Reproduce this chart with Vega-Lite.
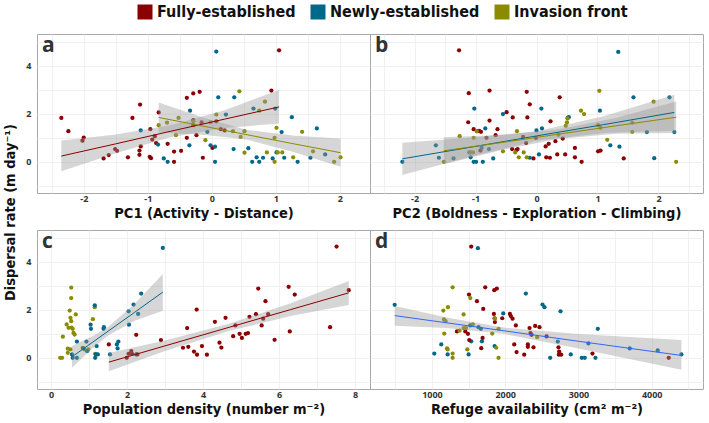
{
"$schema": "https://vega.github.io/schema/vega-lite/v6.json",
"padding": {"left": 2, "top": 4, "right": 6, "bottom": 2},
"background": "white",
"config": {
  "view": {"stroke": "#a8a8a8", "strokeWidth": 1},
  "axis": {"domain": false, "ticks": false, "tickCount": 30, "gridColor": "#ececec", "gridWidth": 0.8, "labelFont": "Open Sans", "labelFontWeight": "bold", "labelFontSize": 9, "labelColor": "#333333", "labelPadding": 1, "titleFont": "DejaVu Sans Condensed, Liberation Sans, sans-serif", "titleFontSize": 14.5, "titleFontWeight": "bold", "titleColor": "#111111", "titlePadding": 3},
  "legend": {"orient": "none", "legendX": 100, "legendY": -30, "direction": "horizontal", "symbolType": "square", "symbolSize": 225, "symbolStrokeWidth": 0, "labelFont": "DejaVu Sans Condensed, Liberation Sans, sans-serif", "labelFontSize": 16, "labelFontWeight": "bold", "labelColor": "#111111", "columnPadding": 14, "labelOffset": 4},
  "title": {"anchor": "start", "offset": -22, "dx": 5, "fontSize": 21, "font": "Open Sans", "fontWeight": "bold", "color": "#333333", "frame": "group"}
},
"datasets": {
"pa": [
{"group":"Fully-established","x":-2.35,"y":1.83},{"group":"Fully-established","x":-2.24,"y":1.28},{"group":"Fully-established","x":-2.02,"y":0.88},{"group":"Fully-established","x":-2.0,"y":1.01},{"group":"Fully-established","x":-1.69,"y":0.14},{"group":"Fully-established","x":-1.61,"y":0.28},{"group":"Fully-established","x":-1.51,"y":0.53},{"group":"Fully-established","x":-1.48,"y":0.46},{"group":"Fully-established","x":-1.31,"y":0.19},{"group":"Fully-established","x":-1.24,"y":1.83},{"group":"Fully-established","x":-1.12,"y":2.39},{"group":"Fully-established","x":-1.11,"y":0.64},{"group":"Fully-established","x":-1.13,"y":0.47},{"group":"Fully-established","x":-1.13,"y":0.29},{"group":"Fully-established","x":-0.96,"y":1.36},{"group":"Fully-established","x":-0.97,"y":0.21},{"group":"Fully-established","x":-0.95,"y":0.15},{"group":"Fully-established","x":-0.93,"y":0.93},{"group":"Fully-established","x":-0.89,"y":1.07},{"group":"Fully-established","x":-0.87,"y":0.78},{"group":"Fully-established","x":-0.83,"y":2.06},{"group":"Fully-established","x":-0.69,"y":0.75},{"group":"Fully-established","x":-0.59,"y":0.43},{"group":"Fully-established","x":-0.59,"y":0.0},{"group":"Fully-established","x":-0.48,"y":0.46},{"group":"Fully-established","x":-0.39,"y":2.67},{"group":"Fully-established","x":-0.39,"y":1.0},{"group":"Fully-established","x":-0.29,"y":2.85},{"group":"Fully-established","x":-0.29,"y":1.74},{"group":"Fully-established","x":-0.29,"y":1.53},{"group":"Fully-established","x":-0.24,"y":1.11},{"group":"Fully-established","x":-0.19,"y":2.92},{"group":"Fully-established","x":-0.16,"y":1.64},{"group":"Fully-established","x":-0.14,"y":0.17},{"group":"Fully-established","x":0.01,"y":0.58},{"group":"Fully-established","x":0.07,"y":1.69},{"group":"Fully-established","x":0.14,"y":1.36},{"group":"Fully-established","x":0.2,"y":1.31},{"group":"Fully-established","x":0.93,"y":2.97},{"group":"Fully-established","x":1.05,"y":4.65},
{"group":"Newly-established","x":0.07,"y":4.6},{"group":"Newly-established","x":0.1,"y":2.69},{"group":"Newly-established","x":0.35,"y":2.69},{"group":"Newly-established","x":0.22,"y":1.97},{"group":"Newly-established","x":-0.34,"y":2.13},{"group":"Newly-established","x":-0.35,"y":0.69},{"group":"Newly-established","x":-1.11,"y":1.31},{"group":"Newly-established","x":-0.84,"y":0.72},{"group":"Newly-established","x":-0.75,"y":0.14},{"group":"Newly-established","x":-0.69,"y":0.0},{"group":"Newly-established","x":-0.07,"y":1.25},{"group":"Newly-established","x":-0.02,"y":0.69},{"group":"Newly-established","x":0.05,"y":0.63},{"group":"Newly-established","x":0.05,"y":0.0},{"group":"Newly-established","x":0.34,"y":0.53},{"group":"Newly-established","x":0.57,"y":0.57},{"group":"Newly-established","x":0.65,"y":2.22},{"group":"Newly-established","x":0.63,"y":0.0},{"group":"Newly-established","x":0.7,"y":0.19},{"group":"Newly-established","x":0.74,"y":0.0},{"group":"Newly-established","x":0.8,"y":0.17},{"group":"Newly-established","x":0.95,"y":0.14},{"group":"Newly-established","x":0.99,"y":2.22},{"group":"Newly-established","x":1.01,"y":0.39},{"group":"Newly-established","x":1.09,"y":1.24},{"group":"Newly-established","x":1.13,"y":0.17},{"group":"Newly-established","x":1.25,"y":1.86},{"group":"Newly-established","x":1.34,"y":0.0},{"group":"Newly-established","x":1.54,"y":0.17},{"group":"Newly-established","x":1.64,"y":1.39},{"group":"Newly-established","x":1.77,"y":0.31},
{"group":"Invasion front","x":0.43,"y":2.94},{"group":"Invasion front","x":0.83,"y":2.51},{"group":"Invasion front","x":0.74,"y":2.13},{"group":"Invasion front","x":0.07,"y":1.97},{"group":"Invasion front","x":-0.52,"y":1.83},{"group":"Invasion front","x":-0.7,"y":1.63},{"group":"Invasion front","x":-0.83,"y":1.53},{"group":"Invasion front","x":-0.29,"y":1.69},{"group":"Invasion front","x":-0.02,"y":1.65},{"group":"Invasion front","x":-0.56,"y":1.11},{"group":"Invasion front","x":-0.1,"y":0.9},{"group":"Invasion front","x":0.33,"y":1.28},{"group":"Invasion front","x":0.51,"y":1.28},{"group":"Invasion front","x":0.45,"y":1.04},{"group":"Invasion front","x":0.51,"y":0.38},{"group":"Invasion front","x":0.86,"y":0.39},{"group":"Invasion front","x":0.98,"y":1.0},{"group":"Invasion front","x":1.01,"y":1.42},{"group":"Invasion front","x":1.03,"y":0.39},{"group":"Invasion front","x":1.1,"y":0.39},{"group":"Invasion front","x":0.98,"y":0.0},{"group":"Invasion front","x":1.27,"y":0.19},{"group":"Invasion front","x":1.41,"y":1.25},{"group":"Invasion front","x":1.58,"y":0.44},{"group":"Invasion front","x":1.91,"y":0.0},{"group":"Invasion front","x":2.01,"y":0.19}
],
"pb": [
{"group":"Fully-established","x":-1.27,"y":4.65},{"group":"Fully-established","x":-1.11,"y":2.86},{"group":"Fully-established","x":-0.77,"y":2.97},{"group":"Fully-established","x":-1.12,"y":1.65},{"group":"Fully-established","x":-1.03,"y":1.36},{"group":"Fully-established","x":-0.97,"y":1.28},{"group":"Fully-established","x":-0.94,"y":1.29},{"group":"Fully-established","x":-0.91,"y":1.25},{"group":"Fully-established","x":-0.92,"y":0.47},{"group":"Fully-established","x":-0.82,"y":1.0},{"group":"Fully-established","x":-0.77,"y":1.72},{"group":"Fully-established","x":-0.67,"y":1.11},{"group":"Fully-established","x":-0.64,"y":1.36},{"group":"Fully-established","x":-0.49,"y":2.07},{"group":"Fully-established","x":-0.39,"y":1.85},{"group":"Fully-established","x":-0.4,"y":0.53},{"group":"Fully-established","x":-0.33,"y":0.49},{"group":"Fully-established","x":-0.31,"y":0.53},{"group":"Fully-established","x":-0.22,"y":1.04},{"group":"Fully-established","x":-0.17,"y":0.78},{"group":"Fully-established","x":-0.16,"y":2.92},{"group":"Fully-established","x":-0.15,"y":1.85},{"group":"Fully-established","x":-0.11,"y":2.4},{"group":"Fully-established","x":-0.05,"y":0.14},{"group":"Fully-established","x":-0.01,"y":1.0},{"group":"Fully-established","x":0.15,"y":0.64},{"group":"Fully-established","x":0.16,"y":0.19},{"group":"Fully-established","x":0.2,"y":0.75},{"group":"Fully-established","x":0.22,"y":0.17},{"group":"Fully-established","x":0.23,"y":1.69},{"group":"Fully-established","x":0.31,"y":0.86},{"group":"Fully-established","x":0.34,"y":0.31},{"group":"Fully-established","x":0.38,"y":2.69},{"group":"Fully-established","x":0.43,"y":0.97},{"group":"Fully-established","x":0.47,"y":0.31},{"group":"Fully-established","x":0.63,"y":0.58},{"group":"Fully-established","x":0.63,"y":0.19},{"group":"Fully-established","x":0.74,"y":0.0},{"group":"Fully-established","x":1.01,"y":0.44},{"group":"Fully-established","x":1.05,"y":0.47},{"group":"Fully-established","x":1.43,"y":0.14},
{"group":"Newly-established","x":1.34,"y":4.58},{"group":"Newly-established","x":1.59,"y":2.69},{"group":"Newly-established","x":2.18,"y":2.69},{"group":"Newly-established","x":0.08,"y":2.22},{"group":"Newly-established","x":-1.02,"y":2.22},{"group":"Newly-established","x":-0.55,"y":1.99},{"group":"Newly-established","x":-0.84,"y":1.39},{"group":"Newly-established","x":0.09,"y":1.39},{"group":"Newly-established","x":0.0,"y":1.31},{"group":"Newly-established","x":0.53,"y":1.86},{"group":"Newly-established","x":1.04,"y":2.13},{"group":"Newly-established","x":-1.65,"y":0.69},{"group":"Newly-established","x":-1.6,"y":0.17},{"group":"Newly-established","x":-1.36,"y":0.14},{"group":"Newly-established","x":-2.2,"y":0.0},{"group":"Newly-established","x":-1.1,"y":0.39},{"group":"Newly-established","x":-1.08,"y":0.19},{"group":"Newly-established","x":-1.03,"y":0.0},{"group":"Newly-established","x":-0.99,"y":0.0},{"group":"Newly-established","x":-0.88,"y":0.0},{"group":"Newly-established","x":-0.9,"y":0.58},{"group":"Newly-established","x":-0.78,"y":0.53},{"group":"Newly-established","x":-0.71,"y":0.14},{"group":"Newly-established","x":-0.11,"y":0.17},{"group":"Newly-established","x":0.04,"y":0.31},{"group":"Newly-established","x":1.21,"y":0.69},{"group":"Newly-established","x":1.36,"y":0.63},{"group":"Newly-established","x":1.81,"y":1.24},{"group":"Newly-established","x":1.93,"y":0.15},{"group":"Newly-established","x":2.26,"y":1.24},{"group":"Newly-established","x":0.51,"y":1.83},
{"group":"Invasion front","x":1.03,"y":2.96},{"group":"Invasion front","x":1.92,"y":2.51},{"group":"Invasion front","x":0.73,"y":2.13},{"group":"Invasion front","x":0.78,"y":1.99},{"group":"Invasion front","x":0.51,"y":1.81},{"group":"Invasion front","x":0.5,"y":1.64},{"group":"Invasion front","x":0.48,"y":1.5},{"group":"Invasion front","x":1.01,"y":1.53},{"group":"Invasion front","x":1.05,"y":1.42},{"group":"Invasion front","x":1.57,"y":1.63},{"group":"Invasion front","x":1.57,"y":1.25},{"group":"Invasion front","x":1.16,"y":0.92},{"group":"Invasion front","x":-1.26,"y":1.07},{"group":"Invasion front","x":-1.03,"y":1.0},{"group":"Invasion front","x":-0.98,"y":1.28},{"group":"Invasion front","x":-0.32,"y":1.28},{"group":"Invasion front","x":0.36,"y":1.13},{"group":"Invasion front","x":-1.52,"y":0.0},{"group":"Invasion front","x":-1.08,"y":0.39},{"group":"Invasion front","x":-1.04,"y":0.39},{"group":"Invasion front","x":-0.55,"y":0.44},{"group":"Invasion front","x":-0.35,"y":0.39},{"group":"Invasion front","x":-0.29,"y":0.19},{"group":"Invasion front","x":-0.21,"y":0.39},{"group":"Invasion front","x":-0.16,"y":0.19},{"group":"Invasion front","x":2.29,"y":0.0}
],
"pc": [
{"group":"Invasion front","x":0.24,"y":0},{"group":"Invasion front","x":0.29,"y":0},{"group":"Invasion front","x":0.31,"y":0.88},{"group":"Invasion front","x":0.41,"y":1.39},{"group":"Invasion front","x":0.44,"y":0.21},{"group":"Invasion front","x":0.44,"y":0.38},{"group":"Invasion front","x":0.46,"y":1.25},{"group":"Invasion front","x":0.49,"y":1.97},{"group":"Invasion front","x":0.51,"y":1.67},{"group":"Invasion front","x":0.53,"y":2.93},{"group":"Invasion front","x":0.53,"y":2.49},{"group":"Invasion front","x":0.53,"y":1.53},{"group":"Invasion front","x":0.54,"y":1.26},{"group":"Invasion front","x":0.51,"y":0.35},{"group":"Invasion front","x":0.57,"y":1.21},{"group":"Invasion front","x":0.59,"y":1.04},{"group":"Invasion front","x":0.62,"y":0.97},{"group":"Invasion front","x":0.65,"y":1.81},{"group":"Invasion front","x":0.83,"y":0.42},{"group":"Invasion front","x":0.98,"y":0.35},{"group":"Invasion front","x":1.1,"y":1.61},{"group":"Invasion front","x":1.15,"y":2.11},{"group":"Invasion front","x":1.16,"y":0.17},{"group":"Invasion front","x":0.88,"y":0.35},
{"group":"Newly-established","x":0.55,"y":0.14},{"group":"Newly-established","x":0.57,"y":0},{"group":"Newly-established","x":0.68,"y":0},{"group":"Newly-established","x":0.68,"y":0.68},{"group":"Newly-established","x":0.85,"y":0.39},{"group":"Newly-established","x":0.93,"y":0.68},{"group":"Newly-established","x":0.95,"y":0.28},{"group":"Newly-established","x":1.04,"y":1.38},{"group":"Newly-established","x":1.05,"y":1.21},{"group":"Newly-established","x":1.15,"y":2.19},{"group":"Newly-established","x":1.16,"y":0},{"group":"Newly-established","x":1.18,"y":0.14},{"group":"Newly-established","x":1.2,"y":0.49},{"group":"Newly-established","x":1.23,"y":0.14},{"group":"Newly-established","x":1.38,"y":1.21},{"group":"Newly-established","x":1.39,"y":1.28},{"group":"Newly-established","x":1.55,"y":0.14},{"group":"Newly-established","x":1.73,"y":0.56},{"group":"Newly-established","x":1.75,"y":0.39},{"group":"Newly-established","x":1.77,"y":0.68},{"group":"Newly-established","x":2.04,"y":1.94},{"group":"Newly-established","x":2.05,"y":1.38},{"group":"Newly-established","x":2.17,"y":2.22},{"group":"Newly-established","x":2.24,"y":0.14},{"group":"Newly-established","x":2.29,"y":1.83},{"group":"Newly-established","x":2.37,"y":2.68},{"group":"Newly-established","x":2.94,"y":4.58},
{"group":"Fully-established","x":1.52,"y":0.56},{"group":"Fully-established","x":1.99,"y":0},{"group":"Fully-established","x":2.04,"y":0.17},{"group":"Fully-established","x":2.11,"y":0.28},{"group":"Fully-established","x":2.13,"y":0.17},{"group":"Fully-established","x":2.24,"y":0.96},{"group":"Fully-established","x":2.27,"y":0.14},{"group":"Fully-established","x":2.89,"y":0.74},{"group":"Fully-established","x":3.47,"y":0.42},{"group":"Fully-established","x":3.58,"y":1.24},{"group":"Fully-established","x":3.61,"y":0.46},{"group":"Fully-established","x":3.76,"y":0.26},{"group":"Fully-established","x":3.83,"y":2.01},{"group":"Fully-established","x":3.84,"y":0.13},{"group":"Fully-established","x":3.97,"y":0.49},{"group":"Fully-established","x":4.1,"y":0.13},{"group":"Fully-established","x":4.31,"y":1.5},{"group":"Fully-established","x":4.43,"y":0.63},{"group":"Fully-established","x":4.48,"y":0.43},{"group":"Fully-established","x":4.59,"y":1.67},{"group":"Fully-established","x":4.79,"y":0.9},{"group":"Fully-established","x":4.85,"y":1.35},{"group":"Fully-established","x":4.96,"y":1.0},{"group":"Fully-established","x":5.02,"y":0.83},{"group":"Fully-established","x":5.12,"y":1.0},{"group":"Fully-established","x":5.18,"y":1.03},{"group":"Fully-established","x":5.22,"y":1.71},{"group":"Fully-established","x":5.39,"y":1.82},{"group":"Fully-established","x":5.45,"y":2.89},{"group":"Fully-established","x":5.54,"y":1.35},{"group":"Fully-established","x":5.58,"y":1.63},{"group":"Fully-established","x":5.64,"y":2.36},{"group":"Fully-established","x":5.71,"y":1.82},{"group":"Fully-established","x":5.88,"y":0.75},{"group":"Fully-established","x":6.25,"y":2.96},{"group":"Fully-established","x":6.28,"y":1.1},{"group":"Fully-established","x":6.41,"y":2.64},{"group":"Fully-established","x":7.34,"y":1.28},{"group":"Fully-established","x":7.51,"y":4.64},{"group":"Fully-established","x":7.83,"y":2.82}
],
"pd": [
{"group":"Newly-established","x":491,"y":2.21},{"group":"Newly-established","x":1032,"y":0.18},{"group":"Newly-established","x":1127,"y":0.56},{"group":"Newly-established","x":1214,"y":0.14},{"group":"Newly-established","x":1500,"y":0.14},{"group":"Newly-established","x":1523,"y":1.35},{"group":"Newly-established","x":1536,"y":0.69},{"group":"Newly-established","x":1627,"y":4.57},{"group":"Newly-established","x":1636,"y":1.28},{"group":"Newly-established","x":1668,"y":1.21},{"group":"Newly-established","x":1682,"y":0.69},{"group":"Newly-established","x":1855,"y":0.49},{"group":"Newly-established","x":1973,"y":1.85},{"group":"Newly-established","x":2282,"y":2.68},{"group":"Newly-established","x":2509,"y":2.22},{"group":"Newly-established","x":2536,"y":2.11},{"group":"Newly-established","x":2614,"y":0},{"group":"Newly-established","x":2718,"y":0.68},{"group":"Newly-established","x":2755,"y":1.94},{"group":"Newly-established","x":2895,"y":0.14},{"group":"Newly-established","x":3045,"y":0},{"group":"Newly-established","x":3086,"y":0},{"group":"Newly-established","x":3136,"y":0.6},{"group":"Newly-established","x":3232,"y":0},{"group":"Newly-established","x":3264,"y":1.21},{"group":"Newly-established","x":3700,"y":0.39},{"group":"Newly-established","x":4082,"y":0.31},{"group":"Newly-established","x":4405,"y":0.14},
{"group":"Fully-established","x":1536,"y":4.64},{"group":"Fully-established","x":1727,"y":2.94},{"group":"Fully-established","x":1850,"y":2.82},{"group":"Fully-established","x":1886,"y":2.89},{"group":"Fully-established","x":1505,"y":2.64},{"group":"Fully-established","x":1614,"y":2.36},{"group":"Fully-established","x":1700,"y":2.04},{"group":"Fully-established","x":1845,"y":1.83},{"group":"Fully-established","x":1959,"y":1.65},{"group":"Fully-established","x":2064,"y":1.83},{"group":"Fully-established","x":2077,"y":1.74},{"group":"Fully-established","x":2100,"y":1.63},{"group":"Fully-established","x":1855,"y":1.65},{"group":"Fully-established","x":1859,"y":1.49},{"group":"Fully-established","x":1341,"y":1.1},{"group":"Fully-established","x":1455,"y":1.1},{"group":"Fully-established","x":1491,"y":1.0},{"group":"Fully-established","x":1509,"y":0.74},{"group":"Fully-established","x":1673,"y":0.4},{"group":"Fully-established","x":1691,"y":0.83},{"group":"Fully-established","x":2145,"y":1.35},{"group":"Fully-established","x":2123,"y":0.56},{"group":"Fully-established","x":2155,"y":0.24},{"group":"Fully-established","x":2259,"y":0.13},{"group":"Fully-established","x":2309,"y":0.56},{"group":"Fully-established","x":2309,"y":0.46},{"group":"Fully-established","x":2332,"y":1.24},{"group":"Fully-established","x":2345,"y":1.03},{"group":"Fully-established","x":2359,"y":0.96},{"group":"Fully-established","x":2386,"y":0.44},{"group":"Fully-established","x":2409,"y":1.33},{"group":"Fully-established","x":2468,"y":1.28},{"group":"Fully-established","x":2564,"y":0.89},{"group":"Fully-established","x":2727,"y":0.44},{"group":"Fully-established","x":2736,"y":0.26},{"group":"Fully-established","x":2732,"y":0.13},{"group":"Fully-established","x":2764,"y":0.13},{"group":"Fully-established","x":3191,"y":0.18},{"group":"Fully-established","x":4232,"y":0},
{"group":"Invasion front","x":1282,"y":2.94},{"group":"Invasion front","x":1523,"y":2.49},{"group":"Invasion front","x":1218,"y":2.11},{"group":"Invasion front","x":1155,"y":1.97},{"group":"Invasion front","x":1164,"y":1.6},{"group":"Invasion front","x":1186,"y":1.53},{"group":"Invasion front","x":1432,"y":1.81},{"group":"Invasion front","x":1168,"y":1.01},{"group":"Invasion front","x":1377,"y":1.13},{"group":"Invasion front","x":1432,"y":1.24},{"group":"Invasion front","x":1464,"y":1.24},{"group":"Invasion front","x":1559,"y":1.4},{"group":"Invasion front","x":1823,"y":1.01},{"group":"Invasion front","x":1859,"y":1.63},{"group":"Invasion front","x":1909,"y":1.21},{"group":"Invasion front","x":1205,"y":0.39},{"group":"Invasion front","x":1214,"y":0.35},{"group":"Invasion front","x":1282,"y":0.18},{"group":"Invasion front","x":1282,"y":0},{"group":"Invasion front","x":1482,"y":0.35},{"group":"Invasion front","x":1877,"y":0.42},{"group":"Invasion front","x":1909,"y":0},{"group":"Invasion front","x":2436,"y":0.86}
],
"ba": [
{"group":"Fully-established","x":-2.35,"lo":-0.39,"hi":0.89,"fit":0.24},{"group":"Fully-established","x":-1.5,"lo":0.36,"hi":1.14,"fit":0.75},{"group":"Fully-established","x":-0.65,"lo":1.02,"hi":1.52,"fit":1.27},{"group":"Fully-established","x":0.2,"lo":1.41,"hi":2.15,"fit":1.78},{"group":"Fully-established","x":1.05,"lo":1.6,"hi":3.0,"fit":2.29},
{"group":"Invasion front","x":-0.83,"lo":1.22,"hi":2.47,"fit":1.85},{"group":"Invasion front","x":-0.1,"lo":1.12,"hi":1.82,"fit":1.47},{"group":"Invasion front","x":0.55,"lo":0.93,"hi":1.33,"fit":1.13},{"group":"Invasion front","x":1.3,"lo":0.39,"hi":1.09,"fit":0.74},{"group":"Invasion front","x":2.01,"lo":-0.21,"hi":0.97,"fit":0.38}
],
"bb": [
{"group":"Newly-established","x":-2.2,"lo":-0.55,"hi":0.8,"fit":0.125},{"group":"Newly-established","x":-1.1,"lo":0.2,"hi":1.0,"fit":0.6},{"group":"Newly-established","x":0.0,"lo":0.88,"hi":1.28,"fit":1.08},{"group":"Newly-established","x":1.1,"lo":1.2,"hi":1.9,"fit":1.55},{"group":"Newly-established","x":2.26,"lo":1.3,"hi":2.8,"fit":2.06},
{"group":"Invasion front","x":-1.52,"lo":-0.1,"hi":1.02,"fit":0.46},{"group":"Invasion front","x":-0.5,"lo":0.53,"hi":1.13,"fit":0.83},{"group":"Invasion front","x":0.35,"lo":0.95,"hi":1.35,"fit":1.15},{"group":"Invasion front","x":1.3,"lo":1.17,"hi":1.83,"fit":1.5},{"group":"Invasion front","x":2.29,"lo":1.2,"hi":2.52,"fit":1.86}
],
"bc": [
{"group":"Newly-established","x":0.55,"lo":-0.41,"hi":0.49,"fit":0.04},{"group":"Newly-established","x":1.1,"lo":0.41,"hi":0.91,"fit":0.66},{"group":"Newly-established","x":1.5,"lo":0.93,"hi":1.29,"fit":1.11},{"group":"Newly-established","x":2.2,"lo":1.55,"hi":2.25,"fit":1.9},{"group":"Newly-established","x":2.94,"lo":1.96,"hi":3.5,"fit":2.74},
{"group":"Fully-established","x":1.52,"lo":-0.56,"hi":0.2,"fit":-0.18},{"group":"Fully-established","x":3.0,"lo":0.28,"hi":0.72,"fit":0.5},{"group":"Fully-established","x":4.7,"lo":1.13,"hi":1.43,"fit":1.28},{"group":"Fully-established","x":6.3,"lo":1.74,"hi":2.28,"fit":2.01},{"group":"Fully-established","x":7.83,"lo":2.2,"hi":3.2,"fit":2.71}
],
"bd": [
{"group":"All","x":491,"lo":1.34,"hi":2.16,"fit":1.76},{"group":"All","x":1200,"lo":1.24,"hi":1.68,"fit":1.46},{"group":"All","x":2000,"lo":0.99,"hi":1.25,"fit":1.12},{"group":"All","x":3000,"lo":0.39,"hi":0.99,"fit":0.69},{"group":"All","x":4405,"lo":-0.5,"hi":0.74,"fit":0.1}
]
},
"columns": 2,
"spacing": {"row": 37, "column": 0},
"bounds": "flush",
"resolve": {"scale": {"color": "shared", "x": "independent", "y": "independent"}, "legend": {"color": "shared"}},
"concat": [
{
 "width": 333, "height": 159,
 "title": {"text": "a"},
 "layer": [
  {"data": {"name": "pa"}, "mark": {"type": "circle", "size": 18, "opacity": 1},
   "encoding": {
    "x": {"field": "x", "type": "quantitative", "scale": {"domain": [-2.73, 2.47], "nice": false, "zero": false}, "axis": {"values": [-2.5,-2,-1.5,-1,-0.5,0,0.5,1,1.5,2,2.5], "tickCount": 30, "labelExpr": "datum.value % 1 === 0 ? '' + datum.value : ''", "title": "PC1 (Activity - Distance)"}},
    "y": {"field": "y", "type": "quantitative", "scale": {"domain": [-1.3, 5.33], "nice": false, "zero": false}, "axis": {"values": [-1,0,1,2,3,4,5], "tickCount": 30, "labelExpr": "datum.value % 2 === 0 ? '' + datum.value : ''", "labelPadding": 6, "title": "Dispersal rate (m day⁻¹)", "titleY": 178, "titlePadding": 8}},
    "color": {"field": "group", "type": "nominal", "scale": {"domain": ["Fully-established", "Newly-established", "Invasion front"], "range": ["#8B0000", "#00688B", "#8B8B00"]}, "legend": {"title": null, "symbolType": "square"}}
   }},
  {"data": {"name": "ba"}, "mark": {"type": "area", "color": "#999999", "opacity": 0.4},
   "encoding": {"x": {"field": "x", "type": "quantitative"}, "y": {"field": "lo", "type": "quantitative"}, "y2": {"field": "hi"}, "detail": {"field": "group"}}},
  {"data": {"name": "ba"}, "mark": {"type": "line", "strokeWidth": 1},
   "encoding": {"x": {"field": "x", "type": "quantitative"}, "y": {"field": "fit", "type": "quantitative"}, "color": {"field": "group", "type": "nominal", "legend": null}}}
 ]
},
{
 "width": 333, "height": 159,
 "title": {"text": "b"},
 "layer": [
  {"data": {"name": "pb"}, "mark": {"type": "circle", "size": 18, "opacity": 1},
   "encoding": {
    "x": {"field": "x", "type": "quantitative", "scale": {"domain": [-2.73, 2.73], "nice": false, "zero": false}, "axis": {"values": [-2.5,-2,-1.5,-1,-0.5,0,0.5,1,1.5,2,2.5], "tickCount": 30, "labelExpr": "datum.value % 1 === 0 ? '' + datum.value : ''", "title": "PC2 (Boldness - Exploration - Climbing)"}},
    "y": {"field": "y", "type": "quantitative", "scale": {"domain": [-1.3, 5.33], "nice": false, "zero": false}, "axis": {"values": [-1,0,1,2,3,4,5], "tickCount": 30, "labels": false, "title": null}},
    "color": {"field": "group", "type": "nominal", "scale": {"domain": ["Fully-established", "Newly-established", "Invasion front"], "range": ["#8B0000", "#00688B", "#8B8B00"]}, "legend": {"title": null, "symbolType": "square"}}
   }},
  {"data": {"name": "bb"}, "mark": {"type": "area", "color": "#999999", "opacity": 0.4},
   "encoding": {"x": {"field": "x", "type": "quantitative"}, "y": {"field": "lo", "type": "quantitative"}, "y2": {"field": "hi"}, "detail": {"field": "group"}}},
  {"data": {"name": "bb"}, "mark": {"type": "line", "strokeWidth": 1},
   "encoding": {"x": {"field": "x", "type": "quantitative"}, "y": {"field": "fit", "type": "quantitative"}, "color": {"field": "group", "type": "nominal", "legend": null}}}
 ]
},
{
 "width": 333, "height": 159,
 "title": {"text": "c"},
 "layer": [
  {"data": {"name": "pc"}, "mark": {"type": "circle", "size": 18, "opacity": 1},
   "encoding": {
    "x": {"field": "x", "type": "quantitative", "scale": {"domain": [-0.37, 8.39], "nice": false, "zero": false}, "axis": {"values": [0,1,2,3,4,5,6,7,8], "tickCount": 30, "labelExpr": "datum.value % 2 === 0 ? '' + datum.value : ''", "title": "Population density (number m⁻²)"}},
    "y": {"field": "y", "type": "quantitative", "scale": {"domain": [-1.3, 5.33], "nice": false, "zero": false}, "axis": {"values": [-1,0,1,2,3,4,5], "tickCount": 30, "labelExpr": "datum.value % 2 === 0 ? '' + datum.value : ''", "labelPadding": 6, "title": null}},
    "color": {"field": "group", "type": "nominal", "scale": {"domain": ["Fully-established", "Newly-established", "Invasion front"], "range": ["#8B0000", "#00688B", "#8B8B00"]}, "legend": {"title": null, "symbolType": "square"}}
   }},
  {"data": {"name": "bc"}, "mark": {"type": "area", "color": "#999999", "opacity": 0.4},
   "encoding": {"x": {"field": "x", "type": "quantitative"}, "y": {"field": "lo", "type": "quantitative"}, "y2": {"field": "hi"}, "detail": {"field": "group"}}},
  {"data": {"name": "bc"}, "mark": {"type": "line", "strokeWidth": 1},
   "encoding": {"x": {"field": "x", "type": "quantitative"}, "y": {"field": "fit", "type": "quantitative"}, "color": {"field": "group", "type": "nominal", "legend": null}}}
 ]
},
{
 "width": 333, "height": 159,
 "title": {"text": "d"},
 "layer": [
  {"data": {"name": "pd"}, "mark": {"type": "circle", "size": 18, "opacity": 1},
   "encoding": {
    "x": {"field": "x", "type": "quantitative", "scale": {"domain": [154, 4700], "nice": false, "zero": false}, "axis": {"values": [500,1000,1500,2000,2500,3000,3500,4000,4500], "tickCount": 30, "labelExpr": "datum.value % 1000 === 0 ? '' + datum.value : ''", "title": "Refuge availability (cm² m⁻²)"}},
    "y": {"field": "y", "type": "quantitative", "scale": {"domain": [-1.3, 5.33], "nice": false, "zero": false}, "axis": {"values": [-1,0,1,2,3,4,5], "tickCount": 30, "labels": false, "title": null}},
    "color": {"field": "group", "type": "nominal", "scale": {"domain": ["Fully-established", "Newly-established", "Invasion front"], "range": ["#8B0000", "#00688B", "#8B8B00"]}, "legend": {"title": null, "symbolType": "square"}}
   }},
  {"data": {"name": "bd"}, "mark": {"type": "area", "color": "#999999", "opacity": 0.4},
   "encoding": {"x": {"field": "x", "type": "quantitative"}, "y": {"field": "lo", "type": "quantitative"}, "y2": {"field": "hi"}}},
  {"data": {"name": "bd"}, "mark": {"type": "line", "strokeWidth": 1, "color": "#3366FF"},
   "encoding": {"x": {"field": "x", "type": "quantitative"}, "y": {"field": "fit", "type": "quantitative"}}}
 ]
}
]
}
